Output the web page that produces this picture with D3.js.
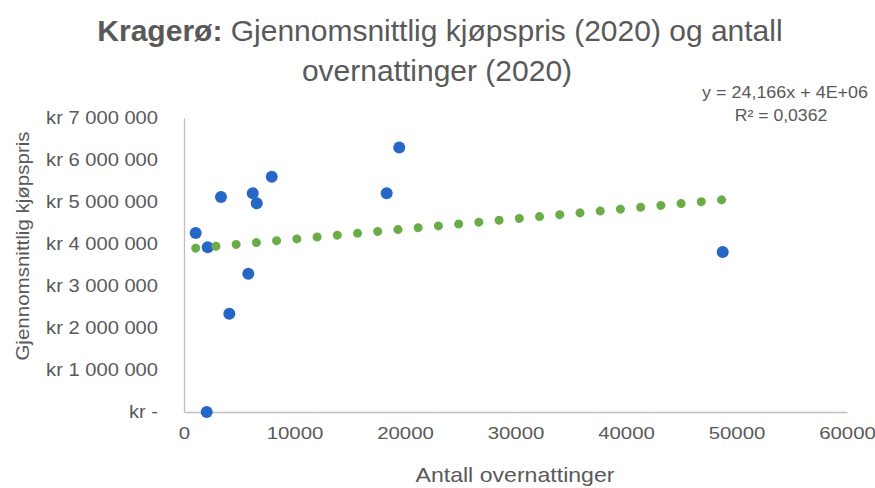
<!DOCTYPE html>
<html>
<head>
<meta charset="utf-8">
<script src="https://cdn.jsdelivr.net/npm/d3@7"></script>
<style>
  html, body { margin: 0; padding: 0; background: #ffffff; }
  svg { display: block; }
  text { font-family: "Liberation Sans", Arial, sans-serif; fill: #595959; }
</style>
</head>
<body>
<svg id="chart" width="875" height="488"></svg>
<script>
// Antall overnattinger (x) og gjennomsnittlig kjøpspris i kr (y), Kragerø 2020
const overnattinger = [1060, 2145, 3350, 4100, 2055, 5820, 6220, 6580, 7940, 18340, 19480, 48750];
const kjopspris     = [4260000, 3920000, 5120000, 2340000, 0, 3290000, 5210000, 4970000, 5600000, 5210000, 6300000, 3810000];

// Lineær trendlinje slik den er oppgitt i etiketten
const trendSlope = 24.166;
const trendIntercept = 3875000;
const trendLabel = "y = 24,166x + 4E+06";
const r2Label = "R² = 0,0362";

const xTicks = [0, 10000, 20000, 30000, 40000, 50000, 60000];
const yTicks = [0, 1000000, 2000000, 3000000, 4000000, 5000000, 6000000, 7000000];

const svg = d3.select("#chart");

const x = d3.scaleLinear().domain([0, 60000]).range([184, 847]);
const y = d3.scaleLinear().domain([0, 7000000]).range([412, 118]);

// Strekker teksten horisontalt (bredere glyfer enn standardfonten)
function stretch(sel, factor) {
  sel.each(function () {
    const w = this.getComputedTextLength();
    d3.select(this).attr("textLength", w * factor).attr("lengthAdjust", "spacingAndGlyphs");
  });
}

// Norsk kronerformat: "kr 7 000 000", null vises som "kr -"
const krFormat = v => v === 0 ? "kr -" : "kr " + d3.format(",")(v).replace(/,/g, " ");

// Y-akse
const yAxis = d3.axisLeft(y).tickValues(yTicks).tickFormat(krFormat).tickSize(0).tickPadding(26);
const gy = svg.append("g").attr("transform", `translate(${x(0)},0)`).call(yAxis);
gy.select(".domain").attr("stroke", "#bfbfbf").attr("stroke-width", 1.3);
gy.selectAll("text").style("font-size", "17.5px").style("fill", "#595959")
  .style("font-family", "'Liberation Sans', Arial, sans-serif").call(stretch, 1.15);

// X-akse
const xAxis = d3.axisBottom(x).tickValues(xTicks).tickFormat(d3.format("d")).tickSize(0).tickPadding(15);
const gx = svg.append("g").attr("transform", `translate(0,${y(0)})`).call(xAxis);
gx.select(".domain").attr("stroke", "#bfbfbf").attr("stroke-width", 1.3);
gx.selectAll("text").style("font-size", "17px").style("fill", "#595959")
  .style("font-family", "'Liberation Sans', Arial, sans-serif").call(stretch, 1.2);

// Datapunkter
svg.append("g").selectAll("circle")
  .data(overnattinger.map((d, i) => [d, kjopspris[i]]))
  .join("circle")
  .attr("cx", d => x(d[0]))
  .attr("cy", d => y(d[1]))
  .attr("r", 6)
  .attr("fill", "#2566c6");

// Trendlinje (prikket) over datapunktenes x-område
const xMin = d3.min(overnattinger), xMax = d3.max(overnattinger);
svg.append("line")
  .attr("x1", x(xMin)).attr("y1", y(trendSlope * xMin + trendIntercept))
  .attr("x2", x(xMax)).attr("y2", y(trendSlope * xMax + trendIntercept))
  .attr("stroke", "#6aac46")
  .attr("stroke-width", 9)
  .attr("stroke-linecap", "round")
  .attr("stroke-dasharray", "0.01 20.3");

// Tittel
const t1 = svg.append("text").attr("x", 440).attr("y", 41).attr("text-anchor", "middle").style("font-size", "30px");
t1.append("tspan").style("font-weight", "bold").text("Kragerø:");
t1.append("tspan").text(" Gjennomsnittlig kjøpspris (2020) og antall");
svg.append("text").attr("x", 437).attr("y", 81).attr("text-anchor", "middle")
  .style("font-size", "30px").text("overnattinger (2020)");

// Trendlinjeetiketter
svg.append("text").attr("x", 868).attr("y", 98).attr("text-anchor", "end")
  .style("font-size", "16px").text(trendLabel).call(stretch, 1.12);
svg.append("text").attr("x", 781).attr("y", 121).attr("text-anchor", "middle")
  .style("font-size", "16px").text(r2Label).call(stretch, 1.1);

// Aksetitler
svg.append("text").attr("transform", "translate(29,246) rotate(-90)")
  .attr("text-anchor", "middle").style("font-size", "19px").text("Gjennomsnittlig kjøpspris").call(stretch, 1.08);
svg.append("text").attr("x", 515).attr("y", 482).attr("text-anchor", "middle")
  .style("font-size", "21px").text("Antall overnattinger").call(stretch, 1.1);
</script>
</body>
</html>
